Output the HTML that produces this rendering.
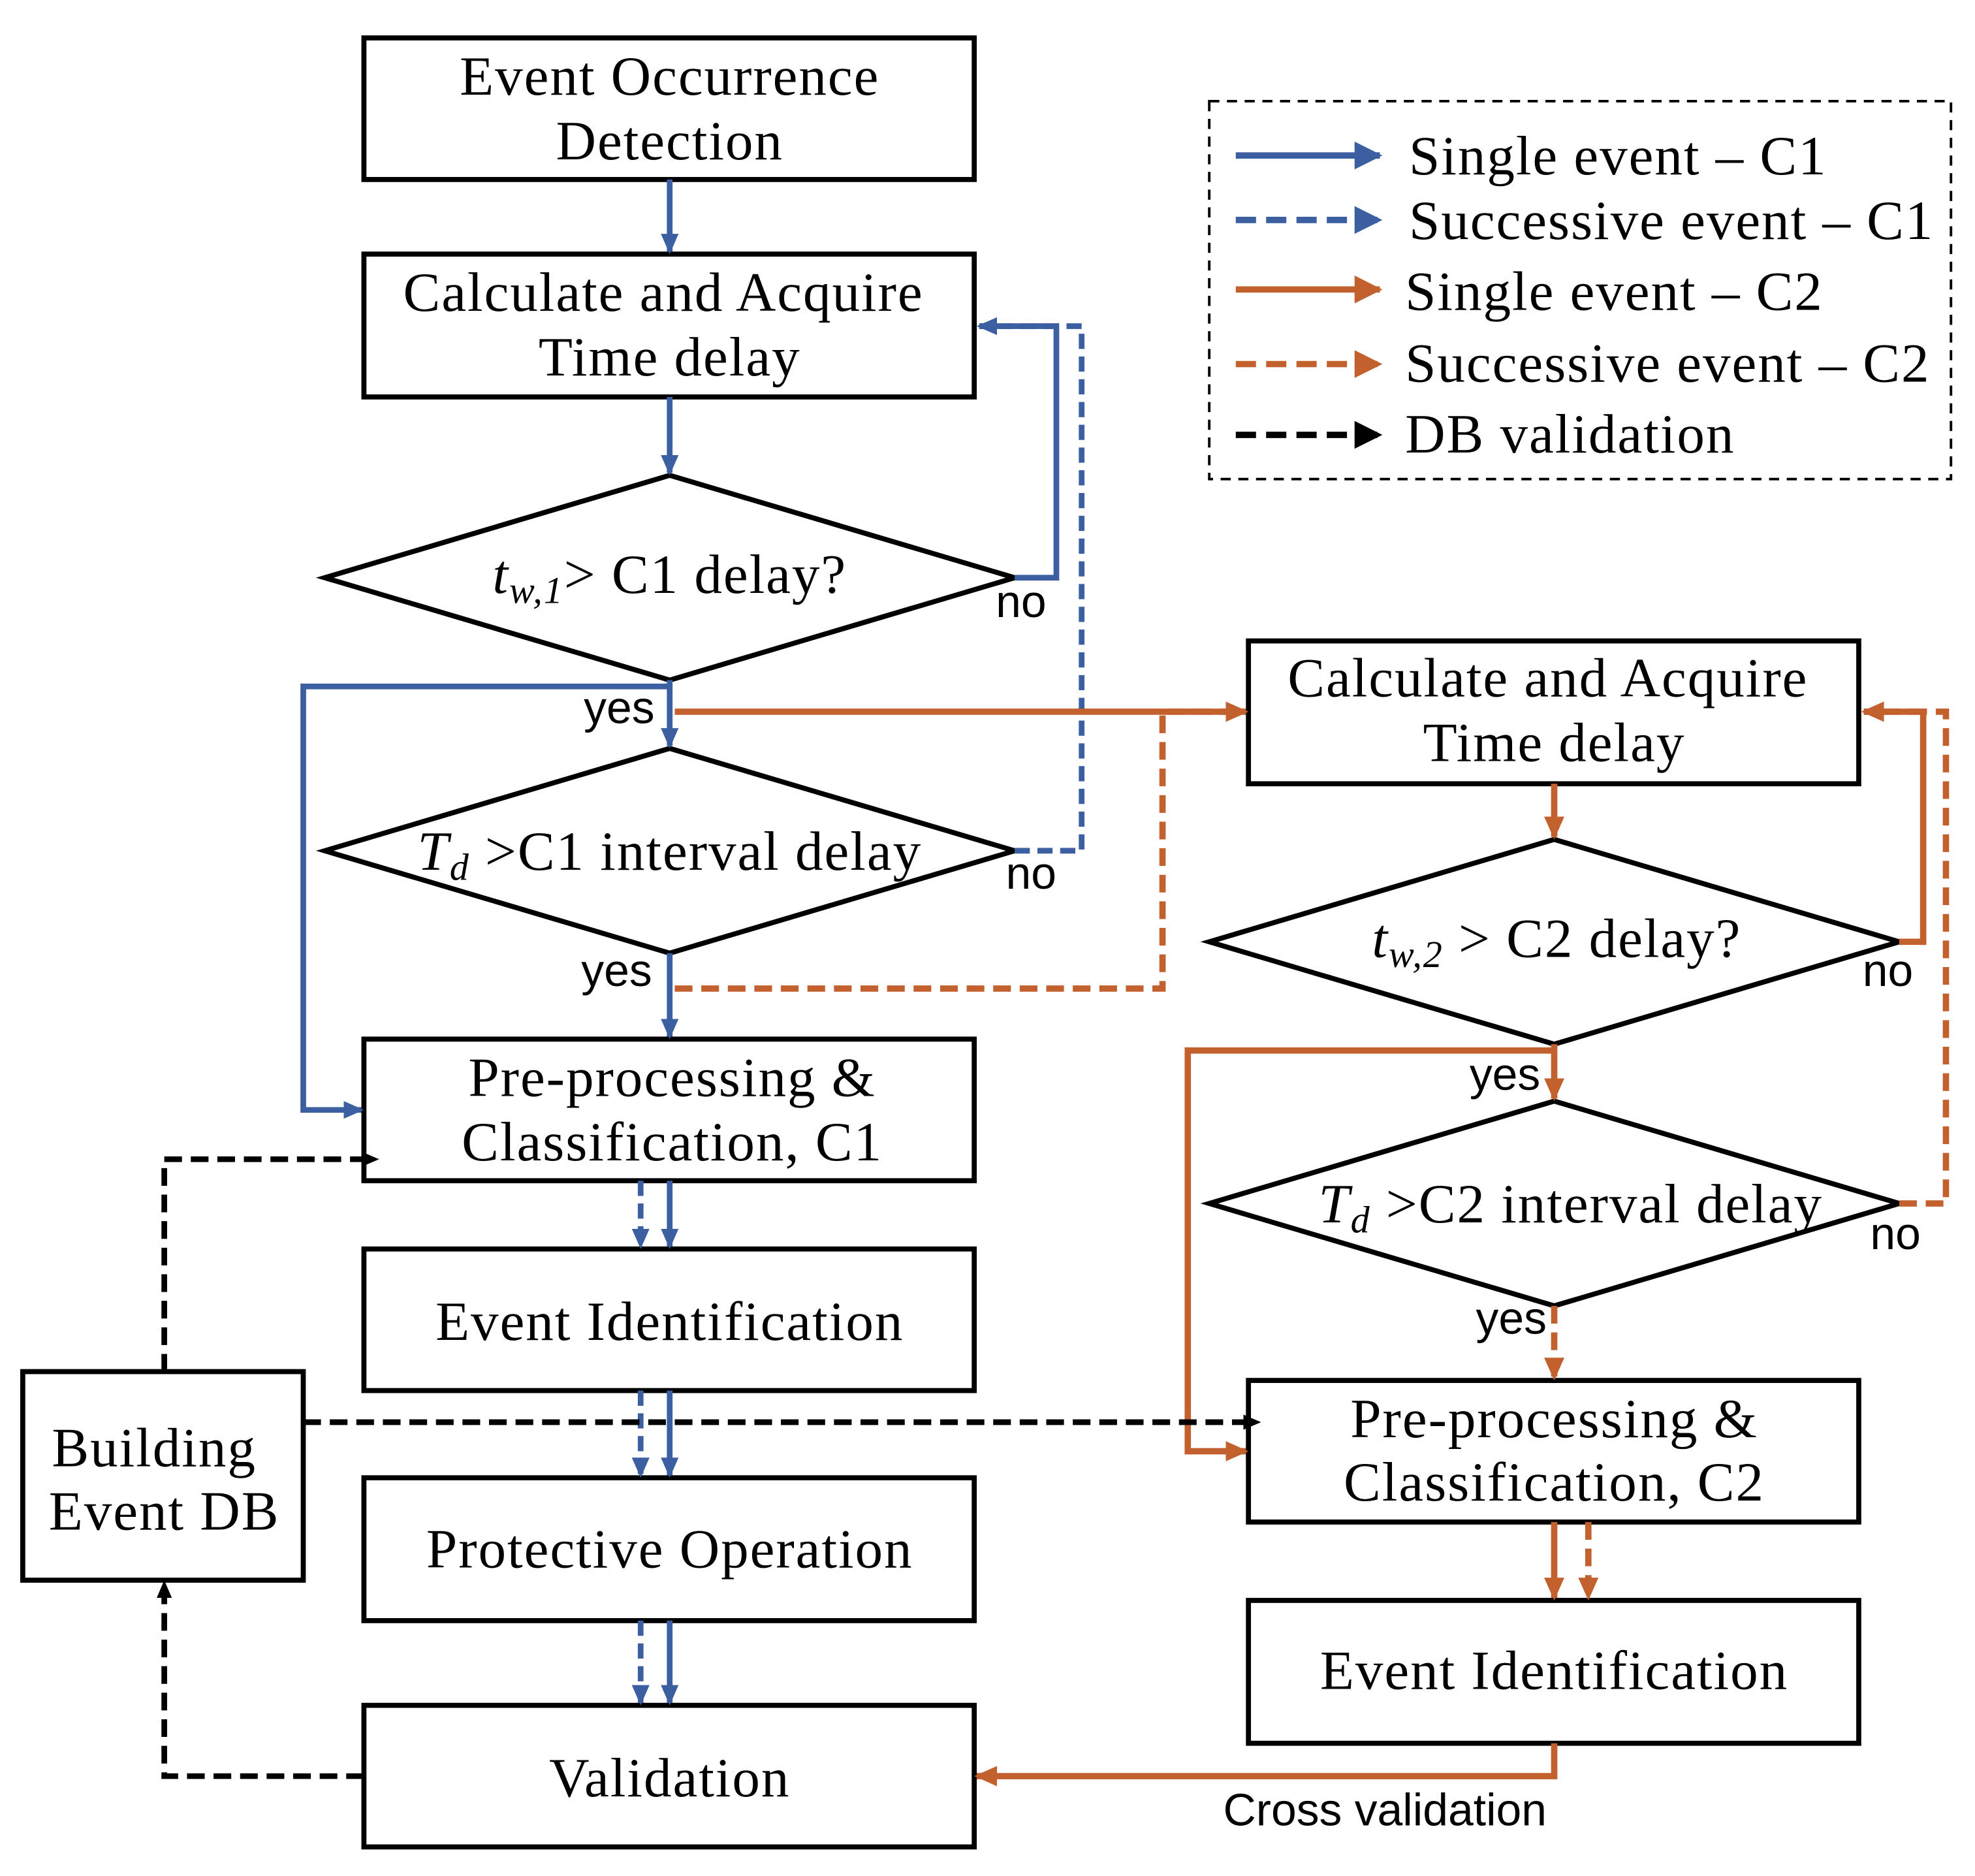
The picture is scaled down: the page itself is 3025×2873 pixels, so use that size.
<!DOCTYPE html>
<html><head><meta charset="utf-8"><style>html,body{margin:0;padding:0;background:#fff}svg{display:block}</style></head>
<body>
<svg width="3025" height="2873" viewBox="0 0 1563 1484" preserveAspectRatio="none" xmlns="http://www.w3.org/2000/svg" font-family="Liberation Serif, serif">
<defs>
<marker id="ab" markerWidth="16" markerHeight="16" refX="14" refY="8" orient="auto" markerUnits="userSpaceOnUse" viewBox="0 0 16 16"><path d="M0,1 L16,8 L0,15z" fill="#3b5fa0"/></marker>
<marker id="ao" markerWidth="18" markerHeight="18" refX="16" refY="9" orient="auto" markerUnits="userSpaceOnUse" viewBox="0 0 18 18"><path d="M0,1 L18,9 L0,17z" fill="#c2602e"/></marker>
<marker id="ak" markerWidth="14" markerHeight="14" refX="12" refY="7" orient="auto" markerUnits="userSpaceOnUse" viewBox="0 0 14 14"><path d="M0,1 L14,7 L0,13z" fill="#000"/></marker>
<marker id="abL" markerWidth="22" markerHeight="22" refX="20" refY="11" orient="auto" markerUnits="userSpaceOnUse" viewBox="0 0 22 22"><path d="M0,0 L22,11 L0,22z" fill="#3b5fa0"/></marker>
<marker id="aoL" markerWidth="22" markerHeight="22" refX="20" refY="11" orient="auto" markerUnits="userSpaceOnUse" viewBox="0 0 22 22"><path d="M0,0 L22,11 L0,22z" fill="#c2602e"/></marker>
<marker id="akL" markerWidth="22" markerHeight="22" refX="20" refY="11" orient="auto" markerUnits="userSpaceOnUse" viewBox="0 0 22 22"><path d="M0,0 L22,11 L0,22z" fill="#000"/></marker>
</defs>
<g fill="none" stroke="#000" stroke-width="4">
<rect x="288" y="30" width="483" height="112"/>
<rect x="288" y="201" width="483" height="113"/>
<polygon points="257,457 530,376 803,457 530,538"/>
<polygon points="257,673 530,592 803,673 530,754"/>
<rect x="288" y="822" width="483" height="112"/>
<rect x="288" y="988" width="483" height="112"/>
<rect x="288" y="1169" width="483" height="113"/>
<rect x="288" y="1349" width="483" height="112"/>
<rect x="18" y="1085" width="222" height="165"/>
<rect x="988" y="507" width="483" height="113"/>
<polygon points="957,745 1230,664 1503,745 1230,826"/>
<polygon points="957,952 1230,871 1503,952 1230,1033"/>
<rect x="988" y="1092" width="483" height="112"/>
<rect x="988" y="1266" width="483" height="113"/>
<rect x="957" y="80" width="587" height="299" stroke-width="2" stroke-dasharray="8,6"/>
</g>
<g font-size="44" letter-spacing="1" text-anchor="middle" fill="#000">
<text x="530" y="75">Event Occurrence</text><text x="530" y="126">Detection</text>
<text x="525" y="246">Calculate and Acquire</text><text x="530" y="297">Time delay</text>
<text x="530" y="469"><tspan font-style="italic">t</tspan><tspan font-style="italic" font-size="30" dy="8">w,1</tspan><tspan dy="-8">&gt; C1 delay?</tspan></text>
<text x="530" y="688"><tspan font-style="italic">T</tspan><tspan font-style="italic" font-size="30" dy="8">d</tspan><tspan dy="-8"> &gt;C1 interval delay</tspan></text>
<text x="532" y="867">Pre-processing &amp;</text><text x="532" y="918">Classification, C1</text>
<text x="530" y="1060">Event Identification</text>
<text x="530" y="1240">Protective Operation</text>
<text x="530" y="1421">Validation</text>
<text x="122" y="1160">Building</text><text x="130" y="1210">Event DB</text>
<text x="1225" y="551">Calculate and Acquire</text><text x="1230" y="602">Time delay</text>
<text x="1232" y="757"><tspan font-style="italic">t</tspan><tspan font-style="italic" font-size="30" dy="8">w,2</tspan><tspan dy="-8"> &gt; C2 delay?</tspan></text>
<text x="1243" y="967"><tspan font-style="italic">T</tspan><tspan font-style="italic" font-size="30" dy="8">d</tspan><tspan dy="-8"> &gt;C2 interval delay</tspan></text>
<text x="1230" y="1137">Pre-processing &amp;</text><text x="1230" y="1187">Classification, C2</text>
<text x="1230" y="1336">Event Identification</text>
</g>
<g font-size="44" letter-spacing="1" fill="#000">
<text x="1115" y="138">Single event – C1</text>
<text x="1115" y="189">Successive event – C1</text>
<text x="1112" y="245">Single event – C2</text>
<text x="1112" y="302">Successive event – C2</text>
<text x="1112" y="358">DB validation</text>
</g>
<g font-family="Liberation Sans, sans-serif" font-size="36" fill="#000">
<text x="788" y="488">no</text><text x="462" y="572">yes</text>
<text x="796" y="703">no</text><text x="460" y="780">yes</text>
<text x="1474" y="780">no</text><text x="1163" y="862">yes</text>
<text x="1480" y="988">no</text><text x="1168" y="1055">yes</text>
<text x="968" y="1444">Cross validation</text>
</g>
<g stroke-width="5" fill="none">
<line x1="978" y1="123" x2="1092" y2="123" stroke="#3b5fa0" marker-end="url(#abL)"/>
<line x1="978" y1="174" x2="1092" y2="174" stroke="#3b5fa0" stroke-dasharray="16,8" marker-end="url(#abL)"/>
<line x1="978" y1="229" x2="1092" y2="229" stroke="#c2602e" marker-end="url(#aoL)"/>
<line x1="978" y1="288" x2="1092" y2="288" stroke="#c2602e" stroke-dasharray="16,8" marker-end="url(#aoL)"/>
<line x1="978" y1="344" x2="1092" y2="344" stroke="#000" stroke-dasharray="16,8" marker-end="url(#akL)"/>
</g>
<g stroke="#3b5fa0" stroke-width="4.5" fill="none" marker-end="url(#ab)">
<line x1="530" y1="142" x2="530" y2="199"/>
<line x1="530" y1="314" x2="530" y2="374"/>
<polyline points="803,457 836,457 836,258 775,258"/>
<line x1="530" y1="538" x2="530" y2="590"/>
<polyline points="530,543 240,543 240,878 286,878"/>
<line x1="530" y1="754" x2="530" y2="820"/>
<line x1="530" y1="934" x2="530" y2="986"/>
<line x1="530" y1="1100" x2="530" y2="1167"/>
<line x1="530" y1="1282" x2="530" y2="1347"/>
</g>
<g stroke="#3b5fa0" stroke-width="4.5" fill="none" stroke-dasharray="12,6" marker-end="url(#ab)">
<polyline points="803,673 856,673 856,258 775,258"/>
<line x1="507" y1="934" x2="507" y2="986"/>
<line x1="507" y1="1100" x2="507" y2="1167"/>
<line x1="507" y1="1282" x2="507" y2="1347"/>
</g>
<g stroke="#c2602e" stroke-width="5" fill="none" marker-end="url(#ao)">
<line x1="534" y1="563" x2="986" y2="563"/>
<line x1="1230" y1="620" x2="1230" y2="662"/>
<polyline points="1503,745 1522,745 1522,563 1475,563"/>
<line x1="1230" y1="826" x2="1230" y2="869"/>
<polyline points="1230,831 940,831 940,1148 986,1148"/>
<line x1="1230" y1="1204" x2="1230" y2="1264"/>
<polyline points="1230,1379 1230,1405 773,1405"/>
</g>
<g stroke="#c2602e" stroke-width="5" fill="none" stroke-dasharray="14,7" marker-end="url(#ao)">
<polyline points="534,782 920,782 920,563 986,563"/>
<polyline points="1503,952 1540,952 1540,563 1475,563"/>
<line x1="1230" y1="1033" x2="1230" y2="1090"/>
<line x1="1257" y1="1204" x2="1257" y2="1264"/>
</g>
<g stroke="#000" stroke-width="4.5" fill="none" stroke-dasharray="14,7" marker-end="url(#ak)">
<polyline points="130,1085 130,917 298,917"/>
<line x1="240" y1="1125" x2="996" y2="1125"/>
<polyline points="288,1405 130,1405 130,1252"/>
</g>
</svg>
</body></html>
